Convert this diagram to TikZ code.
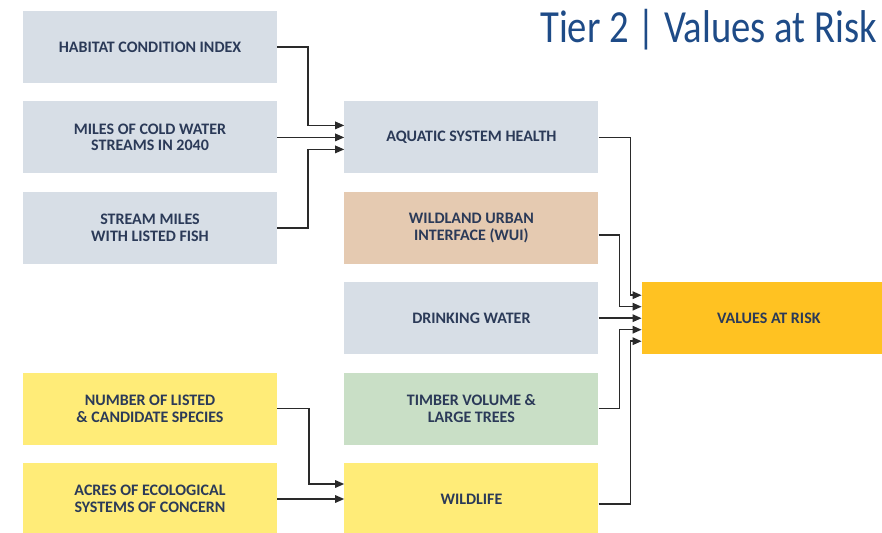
\documentclass[tikz,border=0pt]{standalone}
\usepackage{fontspec}
\usetikzlibrary{positioning,arrows.meta}
\newfontfamily\boxfont{Carlito}
\newfontfamily\titlefont[FakeStretch=0.84]{Carlito}
\definecolor{slatefill}{HTML}{D7DEE6}
\definecolor{tanfill}{HTML}{E5CAB1}
\definecolor{sagefill}{HTML}{C9DFC6}
\definecolor{lemonfill}{HTML}{FFEC78}
\definecolor{amberfill}{HTML}{FFC222}
\definecolor{boxtext}{HTML}{2B3A58}
\definecolor{titleblue}{HTML}{1E4B87}
\definecolor{linegrey}{HTML}{2A2A2A}

\begin{document}
\begin{tikzpicture}[x=1pt,y=-1pt,
  node distance=18pt and 67pt,
  box/.style={minimum width=254pt,minimum height=72pt,inner sep=2pt,align=center,
    text=boxtext,font=\boxfont\bfseries\fontsize{16}{16.5}\selectfont},
  slate/.style={box,fill=slatefill},
  tan/.style={box,fill=tanfill},
  sage/.style={box,fill=sagefill},
  lemon/.style={box,fill=lemonfill},
  amber/.style={box,fill=amberfill},
  link/.style={->,line width=1.5pt,draw=linegrey},
  >={Triangle[length=9pt,width=7.5pt]}]
\useasboundingbox (0,0) rectangle (882,532);
\node[anchor=base west,text=titleblue,font=\titlefont\fontsize{46}{50}\selectfont,inner sep=0pt] (title) at (540,43) {Tier 2 | Values at Risk};
% inputs
\node[slate] (hab) at (150,47) {HABITAT CONDITION INDEX};
\node[slate,below=of hab] (cold) {MILES OF COLD WATER\\STREAMS IN 2040};
\node[slate,below=of cold] (fish) {STREAM MILES\\WITH LISTED FISH};
% values
\node[slate,right=of cold] (aqua) {AQUATIC SYSTEM HEALTH};
\node[tan,below=of aqua] (wui) {WILDLAND URBAN\\INTERFACE (WUI)};
\node[slate,below=of wui] (drink) {DRINKING WATER};
\node[sage,below=of drink] (timber) {TIMBER VOLUME \&\\LARGE TREES};
\node[lemon,below=of timber] (wild) {WILDLIFE};
\node[lemon,left=of timber] (species) {NUMBER OF LISTED\\\& CANDIDATE SPECIES};
\node[lemon,left=of wild] (acres) {ACRES OF ECOLOGICAL\\SYSTEMS OF CONCERN};
\node[amber,right=43pt of drink] (risk) {VALUES AT RISK};
% links
\draw[link] (hab.east) -- ++(31,0) |- ([yshift=12pt]aqua.west);
\draw[link] (cold) -- (aqua);
\draw[link] (fish.east) -- ++(31,0) |- ([yshift=-12pt]aqua.west);
\draw[link] (species.east) -- ++(32,0) |- ([yshift=15pt]wild.west);
\draw[link] (acres) -- (wild);
\draw[link] (aqua.east) -- ++(32,0) |- ([yshift=23pt]risk.west);
\draw[link] ([yshift=-7pt]wui.east) -- ++(21,0) |- ([yshift=11.5pt]risk.west);
\draw[link] (drink) -- (risk);
\draw[link] (timber.east) -- ++(21,0) |- ([yshift=-11.5pt]risk.west);
\draw[link] ([yshift=-5pt]wild.east) -- ++(32,0) |- ([yshift=-23pt]risk.west);
\end{tikzpicture}
\end{document}
